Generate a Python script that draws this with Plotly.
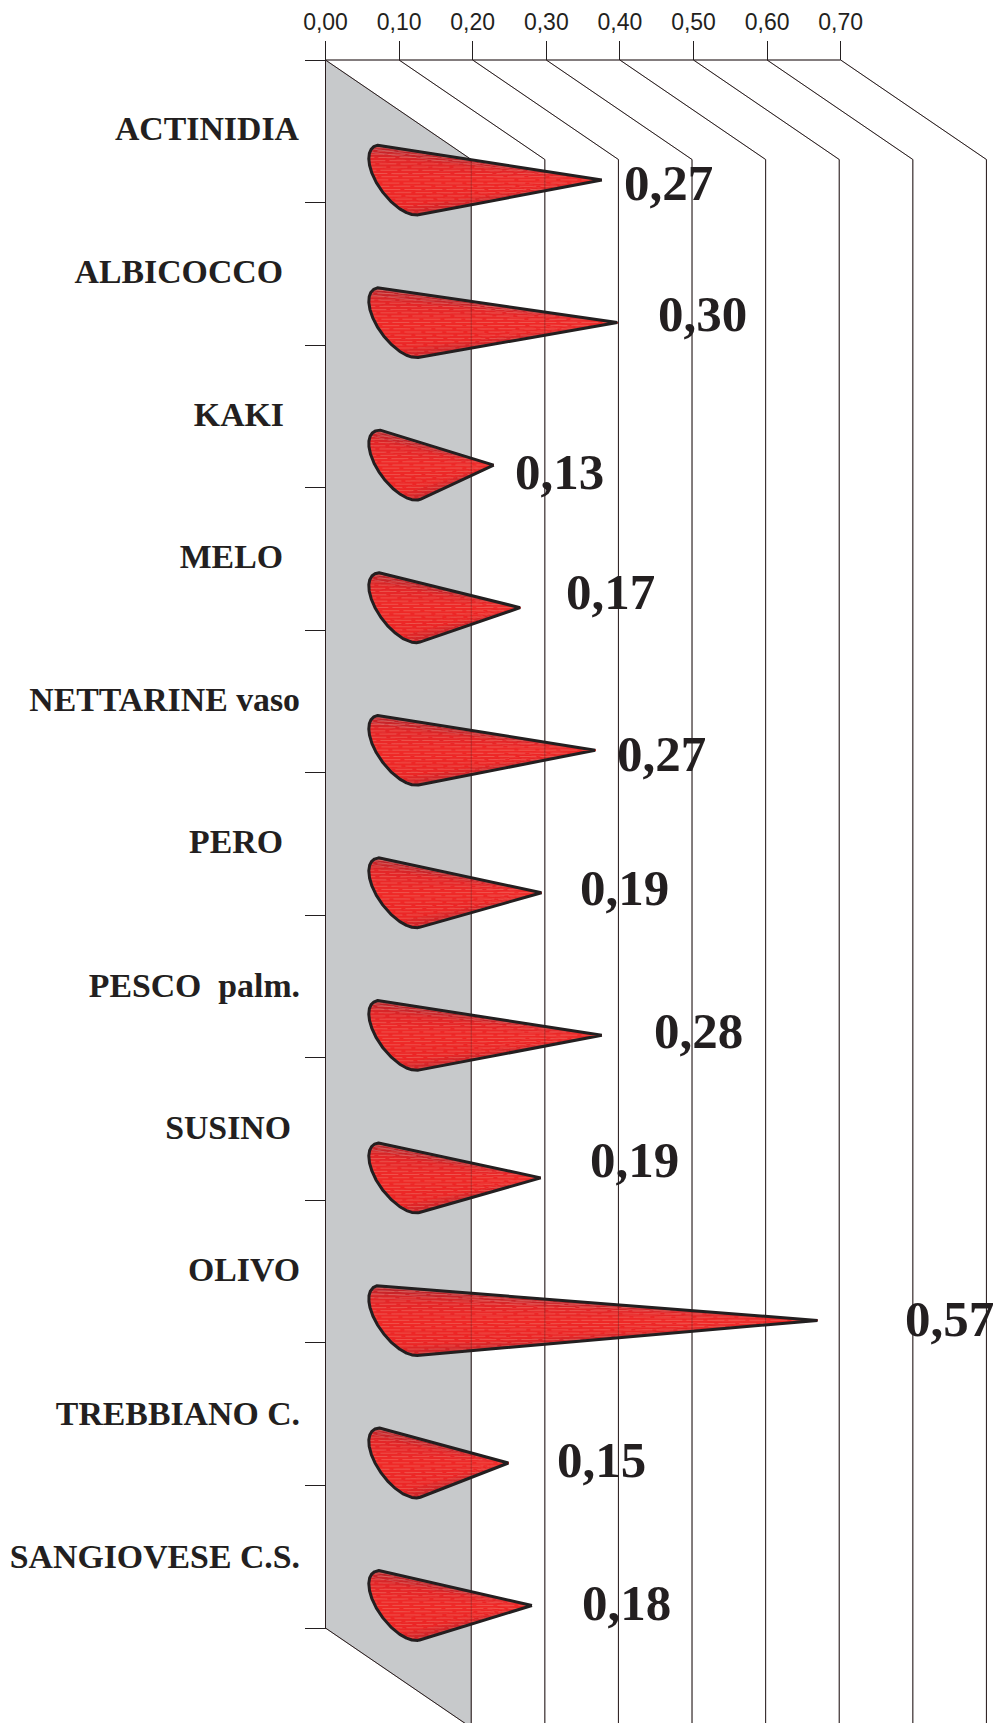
import numpy as np
import plotly.graph_objects as go

categories = ["ACTINIDIA", "ALBICOCCO", "KAKI", "MELO", "NETTARINE vaso", "PERO",
              "PESCO  palm.", "SUSINO", "OLIVO", "TREBBIANO C.", "SANGIOVESE C.S."]
values = [0.277, 0.298, 0.13, 0.166, 0.268, 0.195, 0.277, 0.194, 0.57, 0.15, 0.182]
value_labels = ["0,27", "0,30", "0,13", "0,17", "0,27", "0,19", "0,28", "0,19", "0,57", "0,15", "0,18"]
x_ticks = [0.0, 0.1, 0.2, 0.3, 0.4, 0.5, 0.6, 0.7]
x_tick_labels = ["0,00", "0,10", "0,20", "0,30", "0,40", "0,50", "0,60", "0,70"]

# label placement, in page pixels
cat_right_px = [299, 283, 284, 283, 300, 283, 300, 291, 300, 300, 300]
cat_mid_px = [132, 275, 418, 560, 703, 845, 989, 1131, 1273, 1417, 1560]
val_left_px = [624, 658, 515, 566, 617, 580, 654, 590, 905, 557, 582]
val_mid_px = [187, 318, 476, 596, 758, 892, 1035, 1164, 1323, 1464, 1607]

W, H = 996, 1723
X0, XK = 325.5, 736.0        # pixel of x=0, pixels per unit
Y0, YK = 60.0, 142.55        # pixel of band edge 0, pixels per band
DX, DY = 0.198, 0.698        # chart depth in data units
INK = "#231f20"

px2x = lambda p: (p - X0) / XK
px2y = lambda p: (p - Y0) / YK

fig = go.Figure()

# back wall
fig.add_trace(go.Scatter(x=[0, DX, DX, 0, 0], y=[0, DY, 11 + DY, 11, 0], mode="lines",
                         fill="toself", fillcolor="#c7c9cb", line=dict(width=0)))

# grid
gx, gy = [], []
for v in x_ticks:
    gx += [v, v + DX, v + DX, None]
    gy += [0, DY, 11 + DY, None]
gx += [0, x_ticks[-1], None, 0, 0, None, 0, DX]
gy += [0, 0, None, 0, 11, None, 11, 11 + DY]
fig.add_trace(go.Scatter(x=gx, y=gy, mode="lines", line=dict(color=INK, width=1)))

# cones
CX, CY_OFF = 0.0985, 0.842
AX, AY = -18 / XK, -35 / YK
BX, BY = -23 / XK, 0.0
N = 18


def arc(tip_x, cy):
    t = np.linspace(-0.6, 0.6 + np.pi, 721)
    px = CX + AX * np.cos(t) + BX * np.sin(t)
    py = cy + AY * np.cos(t) + BY * np.sin(t)
    dx = -AX * np.sin(t) + BX * np.cos(t)
    dy = -AY * np.sin(t) + BY * np.cos(t)
    f = (px - tip_x) * dy - (py - cy) * dx
    s = f * f[len(f) // 2] > 0
    return px[s], py[s]


def shade(u):
    stops = [(0.0, (150, 35, 45)), (0.12, (185, 35, 42)), (0.3, (228, 38, 40)), (0.5, (240, 42, 40)),
             (0.75, (235, 38, 38)), (0.92, (200, 36, 42)), (1.0, (170, 35, 45))]
    us = [s[0] for s in stops]
    c = [np.interp(u, us, [s[1][i] for s in stops]) for i in range(3)]
    return "rgb(%d,%d,%d)" % tuple(c)


wedges = [([], []) for _ in range(N)]
sx, sy, ox, oy = [], [], [], []
DASH, GAP = 17 / XK, 4 / XK
for i, v in enumerate(values):
    cy = i + CY_OFF
    tip = v + CX
    ax_, ay_ = arc(tip, cy)
    idx = np.linspace(0, len(ax_) - 1, N + 1).astype(int)
    for k in range(N):
        seg = np.arange(idx[k], idx[k + 1] + 1)
        wedges[k][0].extend([tip] + ax_[seg].tolist() + [tip, None])
        wedges[k][1].extend([cy] + ay_[seg].tolist() + [cy, None])
    # outline
    xs = np.r_[tip, ax_, tip]
    ys = np.r_[cy, ay_, cy]
    ox += xs.tolist() + [None]
    oy += ys.tolist() + [None]
    # horizontal screen stripes, broken on a shifted grid, clipped to the outline
    for row, yy in enumerate(np.arange(ys.min() + 0.02, ys.max(), 3.2 / YK)):
        cross = []
        for j in range(len(xs) - 1):
            if (ys[j] - yy) * (ys[j + 1] - yy) < 0:
                cross.append(xs[j] + (yy - ys[j]) / (ys[j + 1] - ys[j]) * (xs[j + 1] - xs[j]))
        if len(cross) >= 2:
            lo, hi = min(cross), max(cross)
            start = CX - 0.1 + ((row * 11) % 21) / XK
            while start < hi:
                a, b = max(start, lo), min(start + DASH, hi)
                if b > a:
                    sx += [a, b, None]
                    sy += [yy, yy, None]
                start += DASH + GAP

for k in range(N):
    col = shade((k + 0.5) / N)
    fig.add_trace(go.Scatter(x=wedges[k][0], y=wedges[k][1], mode="lines", fill="toself",
                             fillcolor=col, line=dict(color=col, width=0.6)))
fig.add_trace(go.Scatter(x=sx, y=sy, mode="lines", line=dict(color="rgba(240,140,125,0.42)", width=1)))
# grid faintly visible through the cones
fig.add_trace(go.Scatter(x=gx, y=gy, mode="lines", line=dict(color="rgba(60,25,25,0.3)", width=1)))
fig.add_trace(go.Scatter(x=ox, y=oy, mode="lines", line=dict(color=INK, width=3)))

# category and value labels
fig.add_trace(go.Scatter(x=[px2x(p) for p in cat_right_px], y=[px2y(p) for p in cat_mid_px],
                         mode="text", text=categories, textposition="middle left",
                         textfont=dict(family="Liberation Serif", size=33.8, color=INK, weight="bold")))
fig.add_trace(go.Scatter(x=[px2x(p) for p in val_left_px], y=[px2y(p) for p in val_mid_px],
                         mode="text", text=value_labels, textposition="middle right",
                         textfont=dict(family="Liberation Serif", size=51, color=INK, weight="bold")))

fig.update_layout(
    width=W, height=H, margin=dict(l=0, r=0, t=0, b=0),
    paper_bgcolor="white", plot_bgcolor="white", showlegend=False, hovermode=False,
    xaxis=dict(range=[px2x(0), px2x(W)], side="top", anchor="free", position=1 - Y0 / H,
               tickmode="array", tickvals=x_ticks, ticktext=x_tick_labels, ticks="outside",
               ticklen=19, tickwidth=1, tickcolor=INK, showgrid=False, zeroline=False, showline=False,
               ticklabelstandoff=2,
               tickfont=dict(family="Liberation Sans", size=23, color=INK)),
    yaxis=dict(range=[px2y(H), px2y(0)], anchor="free", position=X0 / W,
               tickmode="array", tickvals=list(range(12)), ticks="outside", ticklen=21, tickwidth=1,
               tickcolor=INK, showticklabels=False, showgrid=False, zeroline=False, showline=False),
)

fig.write_html("out.html", post_script="document.body.style.margin='0';document.body.style.overflow='hidden';",
               config=dict(displayModeBar=False))
